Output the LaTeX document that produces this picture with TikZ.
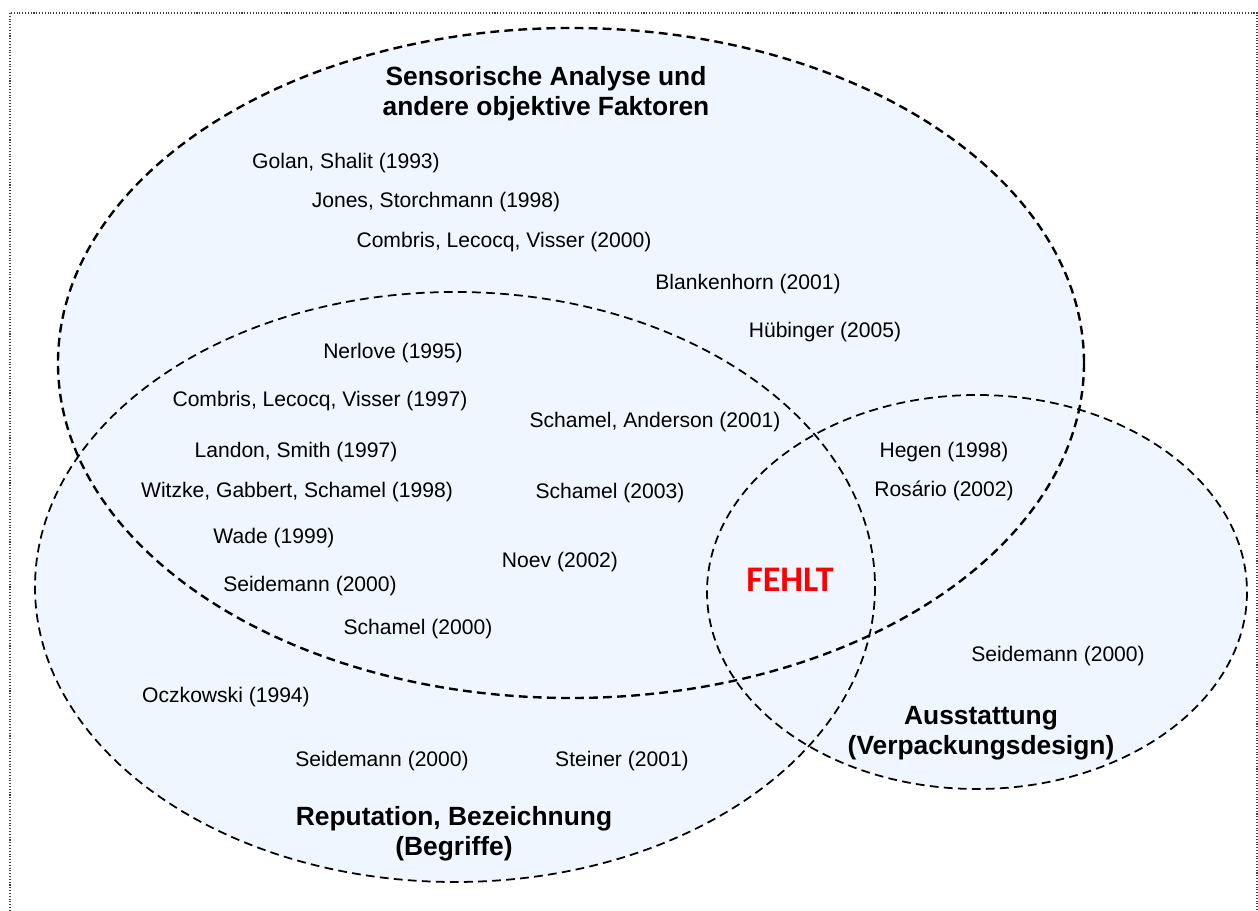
\documentclass[tikz,border=0pt]{standalone}
\usepackage{fontspec}
\setmainfont{Liberation Sans}
\newfontfamily\fehltfont{Carlito}
\usetikzlibrary{positioning}
\definecolor{setfill}{RGB}{239,246,255}
\definecolor{fehltred}{RGB}{255,0,0}

\begin{document}
\begin{tikzpicture}[x=0.02cm,y=-0.02cm,
  ref/.style={font=\fontsize{12}{14}\selectfont,inner sep=0pt},
  settitle/.style={font=\fontsize{15}{17}\selectfont\bfseries,align=center,inner sep=0pt},
  setline/.style={dash pattern=on 5pt off 3pt,line width=1pt}]
\useasboundingbox (0,0) rectangle (1258,911);
\clip (0,0) rectangle (1258,911);
\draw[black!75,densely dotted,line width=0.6pt] (10,13) rectangle (1257,940);
% the three sets
\fill[setfill] (455,587) ellipse [x radius=420,y radius=295];
\fill[setfill] (977,592) ellipse [x radius=270,y radius=197];
\fill[setfill] (571,363) ellipse [x radius=513,y radius=335];
\draw[setline] (455,587) ellipse [x radius=420,y radius=295];
\draw[setline] (977,592) ellipse [x radius=270,y radius=197];
\draw[setline,line width=1.35pt] (571,363) ellipse [x radius=513,y radius=335];
% set titles
\node[settitle] (sens) at (546,94) {Sensorische Analyse und\\andere objektive Faktoren};
\node[settitle] (ausst) at (981,733) {Ausstattung\\(Verpackungsdesign)};
\node[settitle] (reput) at (454,834) {Reputation, Bezeichnung\\(Begriffe)};
\node[font=\fehltfont\fontsize{20.5}{24}\selectfont\bfseries,text=fehltred,inner sep=0pt] (fehlt) at (790,580) {FEHLT};
% references
\node[ref] (golan) at (346,163) {Golan, Shalit (1993)};
\node[ref] (jones) at (436,202) {Jones, Storchmann (1998)};
\node[ref] (combrisA) at (504,242) {Combris, Lecocq, Visser (2000)};
\node[ref] (blank) at (748,284) {Blankenhorn (2001)};
\node[ref] (huebi) at (825,332) {Hübinger (2005)};
\node[ref] (nerlove) at (393,353) {Nerlove (1995)};
\node[ref] (combrisB) at (320,401) {Combris, Lecocq, Visser (1997)};
\node[ref] (schamelAnd) at (655,422) {Schamel, Anderson (2001)};
\node[ref] (landon) at (296,452) {Landon, Smith (1997)};
\node[ref] (witzke) at (297,492) {Witzke, Gabbert, Schamel (1998)};
\node[ref] (schamelC) at (610,493) {Schamel (2003)};
\node[ref] (hegen) at (944,452) {Hegen (1998)};
\node[ref] (rosario) at (944,491) {Rosário (2002)};
\node[ref] (wade) at (274,538) {Wade (1999)};
\node[ref] (noev) at (560,562) {Noev (2002)};
\node[ref] (seideA) at (310,586) {Seidemann (2000)};
\node[ref] (schamelB) at (418,629) {Schamel (2000)};
\node[ref] (seideB) at (1058,656) {Seidemann (2000)};
\node[ref] (oczk) at (226,697) {Oczkowski (1994)};
\node[ref] (seideC) at (382,761) {Seidemann (2000)};
\node[ref] (steiner) at (622,761) {Steiner (2001)};
\end{tikzpicture}
\end{document}
